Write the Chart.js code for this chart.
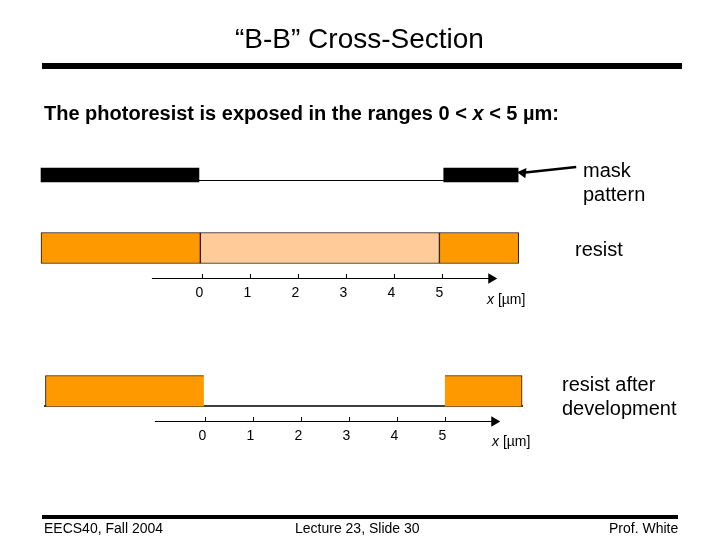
<!DOCTYPE html>
<html>
<head>
<meta charset="utf-8">
<script src="https://cdn.jsdelivr.net/npm/chart.js@4"></script>
<style>
body { margin: 0; background: #fff; }
#slide { position: relative; width: 720px; height: 540px; overflow: hidden; font-family: "Liberation Sans", Arial, sans-serif; color: #000; }
#canvas { position: absolute; left: 0; top: 0; }
.t { position: absolute; white-space: nowrap; line-height: 1; }
.rule { position: absolute; background: #000; }
</style>
</head>
<body>
<div id="slide">
  <canvas id="canvas" width="720" height="540"></canvas>
  <div class="t" style="left:235px;top:25px;font-size:28px">“B-B” Cross-Section</div>
  <div class="rule" style="left:42px;top:63px;width:640px;height:6px"></div>
  <div class="t" style="left:44px;top:103px;font-size:20px;font-weight:bold">The photoresist is exposed in the ranges 0 &lt; <i>x</i> &lt; 5 µm:</div>
  <div class="t" style="left:583px;top:160px;font-size:20px">mask</div>
  <div class="t" style="left:583px;top:184px;font-size:20px">pattern</div>
  <div class="t" style="left:575px;top:239px;font-size:20px">resist</div>
  <div class="t" style="left:487px;top:292px;font-size:14px"><i>x</i> [µm]</div>
  <div class="t" style="left:562px;top:374px;font-size:20px">resist after</div>
  <div class="t" style="left:562px;top:398px;font-size:20px">development</div>
  <div class="t" style="left:492px;top:434px;font-size:14px"><i>x</i> [µm]</div>
  <div class="rule" style="left:42px;top:515px;width:636px;height:4px"></div>
  <div class="t" style="left:44px;top:521px;font-size:14px">EECS40, Fall 2004</div>
  <div class="t" style="left:295px;top:521px;font-size:14px">Lecture 23, Slide 30</div>
  <div class="t" style="left:609px;top:521px;font-size:14px">Prof. White</div>
</div>
<script>
// tick labels on both x axes, in um
const tickValues = [0, 1, 2, 3, 4, 5];

// layer levels on the drawing's vertical axis
const maskLevel = 175;
const maskLineLevel = 180.5;
const resistLevel = 248;
const developedLevel = 391;
const baseLevel = 406;
const topAxisLevel = 278.5;
const bottomAxisLevel = 421.5;

// x ranges in um
const maskLeft = [-3.36, -0.07];
const maskRight = [5.03, 6.58];
const maskGap = [-0.07, 5.03];
const resistLeft = [-3.36, -0.04];
const resistExposed = [-0.04, 4.94];
const resistRight = [4.94, 6.59];
const developedLeft = [-3.33, -0.03];
const developedRight = [4.99, 6.60];
const baseLine = [-3.36, 6.62];
const axisRange = [-1.05, 6.02];
const calloutX = [6.68, 7.79];
const calloutY = [172.8, 167];

const ORANGE = '#ff9900';
const LIGHT = '#ffcc99';

function bar(range, level, thickness, color, border, xAxisID) {
    return {
        type: 'bar',
        indexAxis: 'y',
        data: [{ x: range, y: level }],
        xAxisID: xAxisID,
        yAxisID: 'y',
        grouped: false,
        barThickness: thickness,
        backgroundColor: color,
        borderColor: '#201000',
        borderWidth: border,
        borderSkipped: false
    };
}

function line(xs, ys, width, xAxisID, tip) {
    return {
        type: 'scatter',
        showLine: true,
        data: xs.map((x, i) => ({ x: x, y: ys[i] })),
        xAxisID: xAxisID,
        yAxisID: 'y',
        borderColor: '#000',
        backgroundColor: '#000',
        borderWidth: width,
        pointStyle: 'triangle',
        pointRadius: tip ? [tip.first ? 6 : 0, tip.first ? 0 : 6] : 0,
        pointRotation: tip ? tip.rotation : 0,
        pointBorderWidth: 0
    };
}

// x axis in um, only the ticks 0..5 are kept
function umAxis(min, max, level, labelShift) {
    return {
        type: 'linear',
        min: min,
        max: max,
        position: { y: level },
        afterBuildTicks: scale => { scale.ticks = tickValues.map(v => ({ value: v })); },
        border: { display: false },
        grid: { drawOnChartArea: false, drawTicks: true, tickLength: -5, color: '#000', lineWidth: 1 },
        ticks: {
            color: '#000',
            maxRotation: 0,
            autoSkip: false,
            padding: 11,
            labelOffset: labelShift,
            font: { family: '"Liberation Sans", Arial, sans-serif', size: 14 }
        }
    };
}

const chart = new Chart(document.getElementById('canvas').getContext('2d'), {
    type: 'scatter',
    data: {
        datasets: [
            bar(maskLeft, maskLevel, 14, '#000', 0, 'xTop'),
            bar(maskRight, maskLevel, 14, '#000', 0, 'xTop'),
            line(maskGap, [maskLineLevel, maskLineLevel], 1, 'xTop'),
            line(calloutX, calloutY, 2.5, 'xTop', { first: true, rotation: -84 }),
            bar(resistLeft, resistLevel, 31, ORANGE, 1, 'xTop'),
            bar(resistExposed, resistLevel, 31, LIGHT, 1, 'xTop'),
            bar(resistRight, resistLevel, 31, ORANGE, 1, 'xTop'),
            line(axisRange, [topAxisLevel, topAxisLevel], 1, 'xTop', { first: false, rotation: 90 }),
            bar(developedLeft, developedLevel, 31, ORANGE, { top: 1, left: 1, right: 0, bottom: 0 }, 'xBottom'),
            bar(developedRight, developedLevel, 31, ORANGE, { top: 1, left: 0, right: 1, bottom: 0 }, 'xBottom'),
            line(baseLine, [baseLevel, baseLevel], 1.5, 'xBottom'),
            line(axisRange, [bottomAxisLevel, bottomAxisLevel], 1, 'xBottom', { first: false, rotation: 90 })
        ]
    },
    options: {
        responsive: false,
        animation: false,
        layout: { padding: 0, autoPadding: false },
        plugins: { legend: { display: false }, tooltip: { enabled: false }, title: { display: false } },
        scales: {
            y: { type: 'linear', min: 0, max: 540, reverse: true, display: false, offset: false },
            xTop: umAxis(-202.3 / 48, 517.7 / 48, topAxisLevel, -3),
            xBottom: umAxis(-205.3 / 48, 514.7 / 48, bottomAxisLevel, -3)
        }
    }
});
</script>
</body>
</html>
